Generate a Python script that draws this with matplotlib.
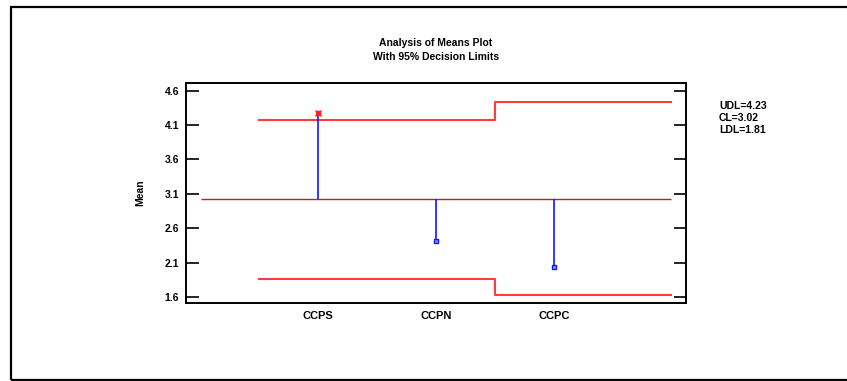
import matplotlib.pyplot as plt
from matplotlib.patches import Rectangle

# Analysis of Means plot with 95% decision limits
categories = ['CCPS', 'CCPN', 'CCPC']
means = [4.28, 2.42, 2.04]
udl = [4.17, 4.17, 4.43]
ldl = [1.87, 1.87, 1.63]
center = 3.02
yticks = [1.6, 2.1, 2.6, 3.1, 3.6, 4.1, 4.6]
legend_lines = ['UDL=4.23', 'CL=3.02', 'LDL=1.81']

plt.rcParams['font.family'] = ['Liberation Sans', 'DejaVu Sans']
plt.rcParams['font.weight'] = 'bold'

fig = plt.figure(figsize=(8.47, 3.81), dpi=100)
ax = fig.add_axes([186 / 847, 1 - 303 / 381, 500 / 847, 220 / 381])

xpos = [1, 2, 3]
edges = [0.5, 1.5, 2.5, 4.0]

# centre line
ax.hlines(center, 0, 4.0, color='#a52a2a', lw=1.0)

# decision limits (step lines)
ax.step(edges, udl + [udl[-1]], where='post', color='#ff3b3b', lw=1.5)
ax.step(edges, ldl + [ldl[-1]], where='post', color='#ff3b3b', lw=1.5)

# stems from centre line to each mean
for x, m, lo, hi in zip(xpos, means, ldl, udl):
    ax.vlines(x, center, m, color='#1515ff', lw=1.2)
    out = m > hi or m < lo
    if out:
        ax.plot(x, m, marker='s', ms=3.5, mfc='#ff2020', mec='#ff2020', zorder=5)
        ax.plot(x, m, marker='x', ms=4, mec='#ff2020', mew=1, zorder=5)
    else:
        ax.plot(x, m, marker='s', ms=3.5, mfc='#9090ff', mec='#1515ff', mew=1, zorder=5)

ax.set_xlim(-0.124, 4.124)
ax.set_ylim(1.517, 4.71)
ax.set_yticks(yticks)
ax.set_yticklabels([f'{v:.1f}' for v in yticks], fontsize=7.5, fontweight='bold')
ax.set_xticks(xpos)
ax.set_xticklabels(categories, fontsize=8, fontweight='bold')
ax.tick_params(axis='x', length=0, pad=6)
ax.tick_params(axis='y', direction='in', length=9, width=1.2, right=True, pad=5)
for s in ax.spines.values():
    s.set_linewidth(1.4)

ax.set_ylabel('Mean', fontsize=7.5, fontweight='bold', labelpad=14)

fig.text(436 / 847, 1 - 50 / 381, 'Analysis of Means Plot\nWith 95% Decision Limits',
         ha='center', va='center', fontsize=7.5, fontweight='bold', linespacing=1.45)

fig.text(719 / 847, 1 - 118 / 381, '\n'.join(legend_lines), ha='left', va='center',
         fontsize=7.5, fontweight='bold', linespacing=1.2)

# outer frame
frame = Rectangle((11 / 847, 1 / 381), 1.0, 1 - 8 / 381, transform=fig.transFigure,
                  fill=False, ec='black', lw=1.6, clip_on=False)
fig.patches.append(frame)

fig.savefig('out.png', dpi=100)
